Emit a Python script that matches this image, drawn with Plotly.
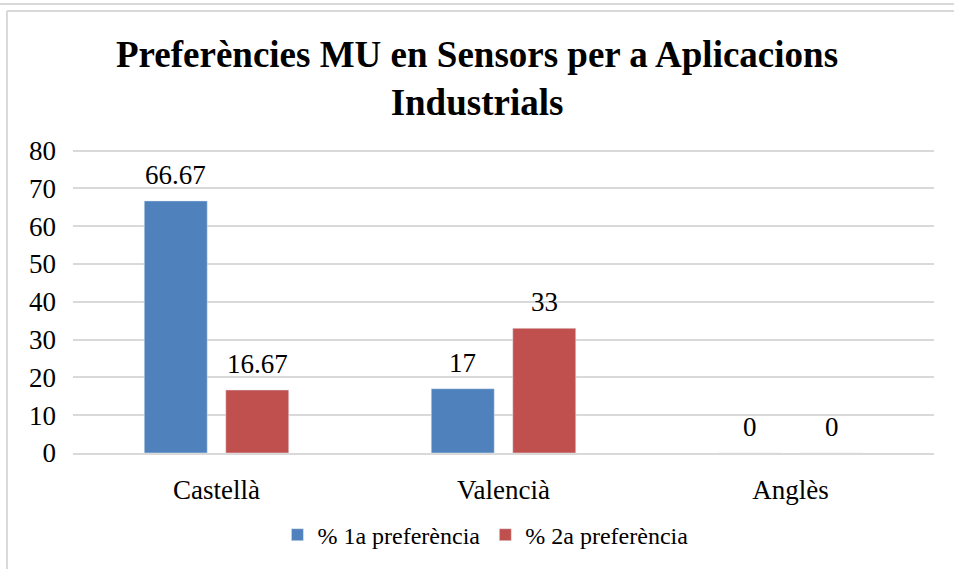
import plotly.graph_objects as go

categories = ["Castellà", "Valencià", "Anglès"]
serie1_name = "% 1a preferència"
serie2_name = "% 2a preferència"
serie1 = [66.67, 17, 0]
serie2 = [16.67, 33, 0]
y_ticks = [0, 10, 20, 30, 40, 50, 60, 70, 80]

font_family = "Liberation Serif, Times New Roman, serif"
label_size = 27

fig = go.Figure()
fig.add_trace(go.Bar(x=categories, y=serie1, name=serie1_name, marker_color="#4F81BD"))
fig.add_trace(go.Bar(x=categories, y=serie2, name=serie2_name, marker_color="#C0504D"))

# data labels placed above each bar (offset left/right for the two bars of a group)
for values, xshift in ((serie1, -41), (serie2, 41)):
    for cat, v in zip(categories, values):
        fig.add_annotation(x=cat, y=v, xref="x", yref="y", text=f"{v:g}",
                           showarrow=False, xshift=xshift, yshift=9, yanchor="bottom",
                           font=dict(size=label_size, family=font_family, color="#000000"))

fig.update_layout(
    width=954, height=569,
    margin=dict(l=73, r=20, t=149, b=114),
    paper_bgcolor="white", plot_bgcolor="white",
    font=dict(family=font_family, color="#000000"),
    title=dict(text="<b>Preferències MU en Sensors per a Aplicacions<br>Industrials</b>",
               x=0.5, xanchor="center", y=0.883, yanchor="middle",
               font=dict(size=37, family=font_family, color="#000000")),
    barmode="group", bargap=0.432, bargroupgap=0.227,
    showlegend=True,
    legend=dict(orientation="h", x=0.479, xanchor="center", y=-0.27, yanchor="middle",
                font=dict(size=24, family=font_family, color="#000000"),
                itemwidth=30, traceorder="normal"),
)
fig.update_yaxes(range=[0, 80.4], tickvals=y_ticks, showgrid=True, gridcolor="#D9D9D9",
                 gridwidth=1.5, zeroline=False, showline=False, automargin=False,
                 tickfont=dict(size=label_size, family=font_family, color="#000000"), ticks="",
                 ticklabelstandoff=16)
fig.update_xaxes(showline=True, linecolor="#D9D9D9", linewidth=1.5, ticks="",
                 ticklabelstandoff=12, automargin=False,
                 tickfont=dict(size=label_size, family=font_family, color="#000000"))

# outer document frame
frame = "#D9D9D9"
fig.add_shape(type="line", xref="paper", yref="paper", x0=-0.09, x1=1.03, y0=1.477, y1=1.477,
              line=dict(color=frame, width=2))
fig.add_shape(type="line", xref="paper", yref="paper", x0=-0.0767, x1=1.03, y0=1.454, y1=1.454,
              line=dict(color=frame, width=2))
fig.add_shape(type="line", xref="paper", yref="paper", x0=-0.0767, x1=-0.0767, y0=1.454, y1=-0.4,
              line=dict(color=frame, width=2))

fig.write_html("out.html", config={"displayModeBar": False},
               post_script="document.body.style.margin='0';document.body.style.padding='0';")
